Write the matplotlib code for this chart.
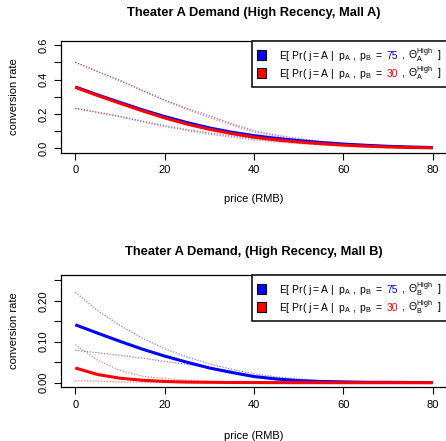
import numpy as np
import matplotlib
matplotlib.use("Agg")
import matplotlib.pyplot as plt
from matplotlib.offsetbox import AnchoredOffsetbox, HPacker, VPacker, TextArea, DrawingArea
from matplotlib.patches import Rectangle

plt.rcParams['font.family'] = ['Liberation Sans', 'DejaVu Sans']
plt.rcParams['mathtext.fontset'] = 'custom'
plt.rcParams['mathtext.rm'] = 'Liberation Sans'
plt.rcParams['mathtext.it'] = 'Liberation Sans'
plt.rcParams['mathtext.bf'] = 'Liberation Sans:bold'

# ---------------- data ----------------
price = [0, 5, 10, 15, 20, 25, 30, 35, 40, 45, 50, 55, 60, 65, 70, 75, 80]

# Mall A panel
a_blue_mean = [0.357, 0.311, 0.267, 0.224, 0.185, 0.150, 0.119, 0.094, 0.074, 0.058, 0.045, 0.034, 0.025, 0.018, 0.012, 0.008, 0.005]
a_blue_hi   = [0.500, 0.447, 0.396, 0.338, 0.282, 0.233, 0.190, 0.143, 0.103, 0.077, 0.057, 0.042, 0.030, 0.021, 0.014, 0.010, 0.007]
a_blue_lo   = [0.233, 0.210, 0.187, 0.159, 0.132, 0.110, 0.090, 0.072, 0.057, 0.044, 0.034, 0.025, 0.018, 0.012, 0.008, 0.005, 0.003]
a_red_mean  = [0.355, 0.307, 0.262, 0.218, 0.177, 0.141, 0.111, 0.086, 0.065, 0.049, 0.037, 0.027, 0.019, 0.013, 0.008, 0.005, 0.003]
a_red_hi    = [0.500, 0.445, 0.392, 0.334, 0.277, 0.226, 0.180, 0.135, 0.095, 0.070, 0.051, 0.037, 0.026, 0.018, 0.012, 0.008, 0.005]
a_red_lo    = [0.233, 0.208, 0.183, 0.154, 0.126, 0.103, 0.083, 0.065, 0.050, 0.038, 0.028, 0.020, 0.014, 0.009, 0.006, 0.004, 0.002]

# Mall B panel
b_blue_mean = [0.1415, 0.121, 0.101, 0.082, 0.065, 0.050, 0.036, 0.025, 0.015, 0.009, 0.005, 0.003, 0.002, 0.001, 0.001, 0.0005, 0.0003]
b_blue_hi   = [0.221, 0.176, 0.140, 0.109, 0.083, 0.063, 0.046, 0.033, 0.022, 0.014, 0.009, 0.005, 0.003, 0.002, 0.001, 0.001, 0.0005]
b_blue_lo   = [0.079, 0.073, 0.067, 0.060, 0.052, 0.045, 0.037, 0.028, 0.018, 0.011, 0.006, 0.003, 0.002, 0.001, 0.0005, 0.0003, 0.0002]
b_red_mean  = [0.036, 0.020, 0.011, 0.006, 0.003, 0.0015, 0.001, 0.0005, 0.0003, 0.0002, 0.0001, 0.0001, 0.0, 0.0, 0.0, 0.0, 0.0]
b_red_hi    = [0.093, 0.055, 0.030, 0.016, 0.010, 0.006, 0.003, 0.002, 0.001, 0.0005, 0.0003, 0.0002, 0.0001, 0.0, 0.0, 0.0, 0.0]
b_red_lo    = [0.005, 0.004, 0.002, 0.001, 0.0005, 0.0003, 0.0002, 0.0001, 0.0, 0.0, 0.0, 0.0, 0.0, 0.0, 0.0, 0.0, 0.0]

titles = ["Theater A Demand (High Recency, Mall A)", "Theater A Demand, (High Recency, Mall B)"]
xticks = [0, 20, 40, 60, 80]
pB_values = ["75", "30"]

W, H = 446, 441
fig = plt.figure(figsize=(W / 100, H / 100), dpi=100)

def px_axes(left, top, right, bottom):
    return fig.add_axes([left / W, 1 - bottom / H, (right - left) / W, (bottom - top) / H])

ax1 = px_axes(61, 41, 447, 152.5)
ax2 = px_axes(61, 275, 447, 387)

def draw(ax, bm, bh, bl, rm, rh, rl):
    for hi, lo, c in [(bh, bl, 'blue'), (rh, rl, 'red')]:
        ax.plot(price, hi, color=c, lw=0.9, ls=(0, (1, 1.3)), alpha=0.5)
        ax.plot(price, lo, color=c, lw=0.9, ls=(0, (1, 1.3)), alpha=0.5)
    ax.plot(price, bm, color='blue', lw=2.2, solid_capstyle='butt')
    ax.plot(price, rm, color='red', lw=2.2, solid_capstyle='butt')

draw(ax1, a_blue_mean, a_blue_hi, a_blue_lo, a_red_mean, a_red_hi, a_red_lo)
draw(ax2, b_blue_mean, b_blue_hi, b_blue_lo, b_red_mean, b_red_hi, b_red_lo)

ax1.set_ylim(-0.024, 0.624)
ax2.set_ylim(-0.0105, 0.263)
ax1.set_yticks(np.round(np.arange(0, 0.61, 0.1), 2))
ax1.set_yticklabels(["0.0", "", "0.2", "", "0.4", "", "0.6"])
ax2.set_yticks(np.round(np.arange(0, 0.251, 0.05), 3))
ax2.set_yticklabels(["0.00", "", "0.10", "", "0.20", ""])

for ax, sub, ttl, cy_title, cy_xlab, cy_mid in [(ax1, "A", titles[0], 13, 199, 96.5),
                                                 (ax2, "B", titles[1], 252, 436, 331)]:
    ax.set_xlim(-3.2, 83.2)
    ax.set_xticks(xticks)
    ax.tick_params(axis='both', direction='out', length=5, width=0.8, labelsize=8, pad=4, color='black')
    ax.tick_params(axis='y', labelrotation=90)
    for lab in ax.get_yticklabels():
        lab.set_va('center')
    for s in ax.spines.values():
        s.set_linewidth(0.9)
    fig.text(254 / W, 1 - cy_title / H, ttl, ha='center', va='center', fontsize=9.3, fontweight='bold')
    fig.text(254 / W, 1 - cy_xlab / H, "price (RMB)", ha='center', va='center', fontsize=8)
    fig.text(14 / W, 1 - cy_mid / H, "conversion rate", ha='center', va='center', fontsize=8, rotation=90)

    rows = []
    for col, num in [('blue', pB_values[0]), ('red', pB_values[1])]:
        da = DrawingArea(8, 8, 0, 0)
        da.add_artist(Rectangle((0, 0.5), 7, 7, fc=col, ec='black', lw=0.8))
        tp = dict(size=7.5)
        t1 = TextArea(r"$\mathregular{E[\ Pr(\ j{=}A\ |\ \ p_A\ ,\ p_B\ =}$", textprops=tp)
        t2 = TextArea(num, textprops=dict(size=7.5, color=col))
        t3 = TextArea(r"$\mathregular{,\ \Theta_{%s}^{High}\ \ ]}$" % sub, textprops=tp)
        txt = HPacker(children=[t1, t2, t3], align='baseline', pad=0, sep=2.5)
        rows.append(HPacker(children=[da, txt], align='center', pad=0, sep=8))
    box = VPacker(children=rows, align='left', pad=0, sep=0)
    anch = AnchoredOffsetbox(loc='upper right', child=box, pad=0.35, borderpad=0,
                             frameon=True, bbox_to_anchor=ax.bbox, bbox_transform=None)
    anch.patch.set_boxstyle('square', pad=0)
    anch.patch.set_edgecolor('black')
    anch.patch.set_linewidth(1.1)
    ax.add_artist(anch)

fig.savefig("out.png", dpi=100)
